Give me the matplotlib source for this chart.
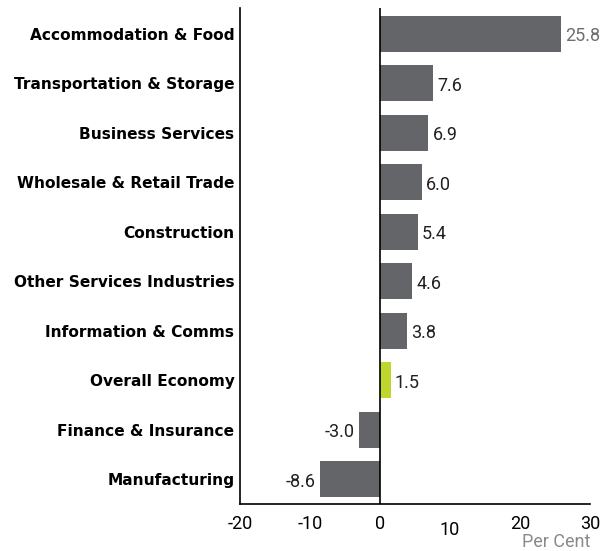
import numpy as np
from matplotlib import pyplot as plt

categories = ["Accommodation & Food", "Transportation & Storage", "Business Services",
              "Wholesale & Retail Trade", "Construction", "Other Services Industries",
              "Information & Comms", "Overall Economy", "Finance & Insurance", "Manufacturing"]
values = [25.8, 7.6, 6.9, 6.0, 5.4, 4.6, 3.8, 1.5, -3.0, -8.6]
xticks = [-20, -10, 0, 10, 20, 30]

plt.rcParams['font.family'] = ['Roboto', 'DejaVu Sans']

fig = plt.figure(figsize=(6.03, 5.51), dpi=100)
ax = fig.add_axes([240 / 603, 47 / 551, 350 / 603, 496 / 551])

y = np.arange(len(categories))
colors = ["#bfd630" if c == "Overall Economy" else "#646569" for c in categories]
ax.barh(y, values, height=0.72, color=colors, zorder=2)
ax.axvline(0, color="black", linewidth=1.2, zorder=3)

for yi, v in zip(y, values):
    col = "#6d6e71" if v > 20 else "#231f20"
    if v >= 0:
        ax.text(v + 0.6, yi + 0.05, f"{v:.1f}", va="center", ha="left", fontsize=13, color=col)
    else:
        ax.text(v - 0.6, yi + 0.05, f"{v:.1f}", va="center", ha="right", fontsize=13, color=col)

ax.set_xlim(-20, 30)
ax.set_ylim(9.5, -0.52)
ax.set_yticks(y)
ax.set_yticklabels(categories, fontsize=11.1, fontweight="bold", family="DejaVu Sans")
ax.set_xticks(xticks)
ax.set_xticklabels([str(t) for t in xticks], fontsize=13)
ax.tick_params(axis="y", length=0, pad=4)
ax.tick_params(axis="x", length=0, pad=8)
# the "10" label sits a little lower in the original
ax.get_xticklabels()[3].set_y(-0.012)

for s in ["top", "right"]:
    ax.spines[s].set_visible(False)
ax.spines["left"].set_linewidth(1.2)
ax.spines["bottom"].set_linewidth(1.2)

fig.text(590 / 603, 1 - 542 / 551, "Per Cent", ha="right", va="center", fontsize=13, color="#8a8a8d")

plt.savefig("out.png", dpi=100)
